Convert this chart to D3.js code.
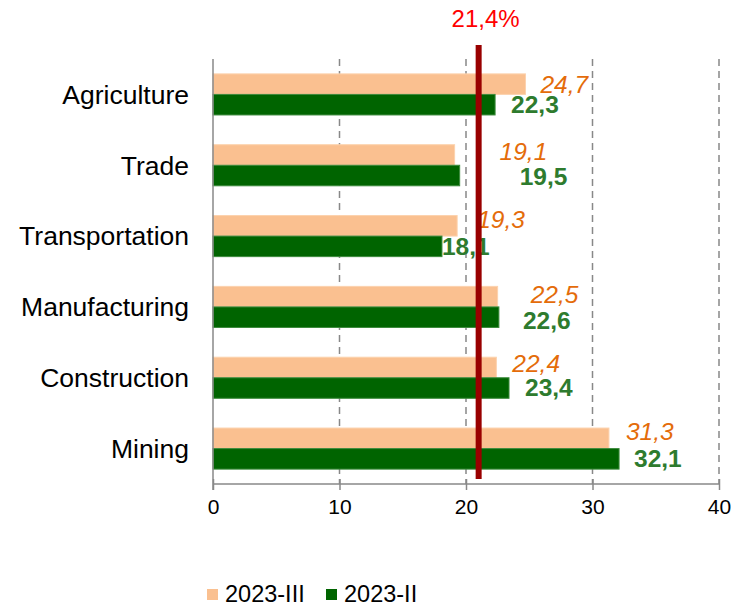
<!DOCTYPE html>
<html lang="en">
<head>
    <title>Sectors</title>
    <meta charset="utf-8">
    <script src="https://d3js.org/d3.v7.min.js"></script>
</head>
<style>
  body { margin: 0; background: #fff; }
</style>
<body>
<div id="chart"></div>
</body>
<script>

var categories = ["Agriculture", "Trade", "Transportation", "Manufacturing", "Construction", "Mining"];
var seriesNames = ["2023-III", "2023-II"];
var values2023III = [24.7, 19.1, 19.3, 22.5, 22.4, 31.3];
var values2023II = [22.3, 19.5, 18.1, 22.6, 23.4, 32.1];
var xTicks = [0, 10, 20, 30, 40];
var refValue = 21.0;
var refLabel = "21,4%";

var font = "Arial, 'Liberation Sans', sans-serif";
var width = 745;
var height = 604;
var margin = {top: 59, right: 26, bottom: 120, left: 213};
var innerWidth = width - margin.left - margin.right;
var innerHeight = height - margin.top - margin.bottom;

var colors = {"2023-III": "#FAC090", "2023-II": "#006400"};
var strokes = {"2023-III": "#FCD2AE", "2023-II": "#3C8A3C"};
var labelColors = {"2023-III": "#E46C0A", "2023-II": "#2E7B2E"};

// manual nudges of the value labels (as in the original), [dx, dy]
var nudges = {
  "2023-III": [[0, 0], [30, -4], [5, -6], [18, -2], [1, -4], [2, -7]],
  "2023-II": [[1, 0], [45, 1], [-15, 0], [9, 3], [1, -1], [0, 0]]
};

var data = categories.map((c, i) => ({
  category: c,
  "2023-III": values2023III[i],
  "2023-II": values2023II[i]
}));

var svg = d3.select("#chart")
  .append("svg")
  .attr("width", width)
  .attr("height", height)
  .style("display", "block");

var g = svg.append("g").attr("transform", `translate(${margin.left}, ${margin.top})`);

var x = d3.scaleLinear()
  .domain([0, 40])
  .range([0, innerWidth]);

var y0 = d3.scaleBand()
  .domain(categories)
  .range([0, innerHeight])
  .paddingInner(0.42)
  .paddingOuter(0.21);

var y1 = d3.scaleBand()
  .domain(seriesNames)
  .range([0, y0.bandwidth()]);

// dashed gridlines
g.append("g")
  .selectAll("line")
  .data(xTicks.slice(1))
  .enter().append("line")
  .attr("x1", d => x(d))
  .attr("x2", d => x(d))
  .attr("y1", 0)
  .attr("y2", innerHeight)
  .attr("stroke", "#888")
  .attr("stroke-width", 1.5)
  .attr("stroke-dasharray", "7,5");

// bars
var groups = g.append("g")
  .selectAll("g")
  .data(data)
  .enter().append("g")
  .attr("transform", d => "translate(0," + y0(d.category) + ")");

groups.selectAll("rect")
  .data(d => seriesNames.map(key => ({key: key, value: d[key]})))
  .enter().append("rect")
  .attr("x", 0)
  .attr("y", d => y1(d.key))
  .attr("width", d => x(d.value))
  .attr("height", y1.bandwidth())
  .attr("fill", d => colors[d.key])
  .attr("stroke", d => strokes[d.key])
  .attr("stroke-width", 1);

// value labels
groups.selectAll("text")
  .data((d, i) => seriesNames.map(key => ({key: key, value: d[key], i: i})))
  .enter().append("text")
  .attr("x", d => x(d.value) + 15 + nudges[d.key][d.i][0])
  .attr("y", d => y1(d.key) + y1.bandwidth() / 2 + nudges[d.key][d.i][1])
  .attr("dy", "0.35em")
  .attr("font-family", font)
  .attr("font-size", "24.5px")
  .attr("font-style", d => d.key == "2023-III" ? "italic" : "normal")
  .attr("font-weight", d => d.key == "2023-II" ? "bold" : "normal")
  .attr("fill", d => labelColors[d.key])
  .text(d => d3.format(".1f")(d.value).replace(".", ","));

// left axis
g.append("line")
  .attr("x1", 0).attr("x2", 0)
  .attr("y1", 0).attr("y2", innerHeight + 6)
  .attr("stroke", "#888")
  .attr("stroke-width", 1.5);

g.append("g")
  .selectAll("text")
  .data(categories)
  .enter().append("text")
  .attr("x", -24)
  .attr("y", d => y0(d) + y0.bandwidth() / 2)
  .attr("dy", "0.35em")
  .attr("text-anchor", "end")
  .attr("font-family", font)
  .attr("font-size", "26.5px")
  .attr("fill", "#000")
  .text(d => d);

// bottom axis
var xAxis = g.append("g")
  .attr("transform", "translate(0," + innerHeight + ")")
  .call(d3.axisBottom(x).tickValues(xTicks).tickSize(6).tickPadding(9));

xAxis.select(".domain").attr("stroke", "#888").attr("stroke-width", 1.5)
  .attr("d", "M0,0H" + innerWidth);
xAxis.selectAll(".tick line").attr("stroke", "#888").attr("stroke-width", 1.5)
  .attr("y1", -5);
xAxis.selectAll(".tick text")
  .attr("font-size", "21px")
  .attr("font-family", font)
  .attr("fill", "#000");

// reference line
g.append("line")
  .attr("x1", x(refValue)).attr("x2", x(refValue))
  .attr("y1", 45 - margin.top)
  .attr("y2", innerHeight - 5)
  .attr("stroke", "#990000")
  .attr("stroke-width", 6);

g.append("text")
  .attr("x", x(refValue) + 7)
  .attr("y", 27 - margin.top)
  .attr("text-anchor", "middle")
  .attr("font-family", font)
  .attr("font-size", "24px")
  .attr("fill", "#FF0000")
  .text(refLabel);

// legend
var legend = svg.append("g")
  .selectAll("g")
  .data(seriesNames)
  .enter().append("g")
  .attr("transform", (d, i) => "translate(" + (207 + i * 119) + ",589)");

legend.append("rect")
  .attr("width", 11)
  .attr("height", 11)
  .attr("fill", d => colors[d]);

legend.append("text")
  .attr("x", 18)
  .attr("y", 13)
  .attr("font-family", font)
  .attr("font-size", "23.5px")
  .attr("fill", "#000")
  .text(d => d);

</script>
</html>
